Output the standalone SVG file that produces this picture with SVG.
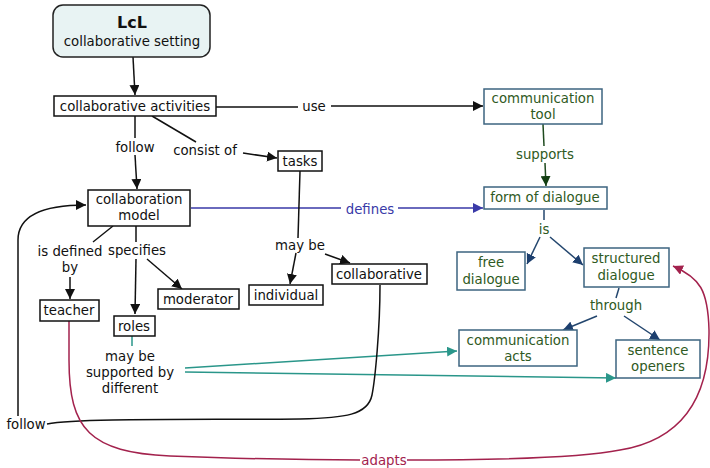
<svg xmlns="http://www.w3.org/2000/svg" width="710" height="468" viewBox="0 0 710 468">
<style>
text{font-family:"DejaVu Sans",Verdana,sans-serif;font-size:13.3px;text-anchor:middle;fill:#111}
.b{fill:#fff;stroke:#111;stroke-width:1.5}
.g{fill:#fff;stroke:#3d6480;stroke-width:1.5}
.gt{fill:#2f5a23}
.l{fill:none;stroke:#111;stroke-width:1.5}
.lg{fill:none;stroke:#1e4a1e;stroke-width:1.5}
.lb{fill:none;stroke:#23466e;stroke-width:1.5}
.lt{fill:none;stroke:#2a968a;stroke-width:1.5}
.lr{fill:none;stroke:#a3224d;stroke-width:1.5}
.lp{fill:none;stroke:#3a3aa8;stroke-width:1.5}
</style>
<defs>
<marker id="ak" viewBox="0 0 10 10" refX="10" refY="5" markerWidth="10" markerHeight="10" markerUnits="userSpaceOnUse" orient="auto"><path d="M0,0L10,5L0,10z" fill="#111"/></marker>
<marker id="ag" viewBox="0 0 10 10" refX="10" refY="5" markerWidth="10" markerHeight="10" markerUnits="userSpaceOnUse" orient="auto"><path d="M0,0L10,5L0,10z" fill="#123e12"/></marker>
<marker id="ab" viewBox="0 0 10 10" refX="10" refY="5" markerWidth="10" markerHeight="10" markerUnits="userSpaceOnUse" orient="auto"><path d="M0,0L10,5L0,10z" fill="#1d3f6e"/></marker>
<marker id="at" viewBox="0 0 10 10" refX="10" refY="5" markerWidth="10" markerHeight="10" markerUnits="userSpaceOnUse" orient="auto"><path d="M0,0L10,5L0,10z" fill="#2a968a"/></marker>
<marker id="ar" viewBox="0 0 10 10" refX="10" refY="5" markerWidth="10" markerHeight="10" markerUnits="userSpaceOnUse" orient="auto"><path d="M0,0L10,5L0,10z" fill="#a3224d"/></marker>
<marker id="ap" viewBox="0 0 10 10" refX="10" refY="5" markerWidth="10" markerHeight="10" markerUnits="userSpaceOnUse" orient="auto"><path d="M0,0L10,5L0,10z" fill="#3a3aa8"/></marker>
</defs>
<rect width="710" height="468" fill="#fff"/>
<g id="connectors">
<path class="l" d="M133,57L135,95" marker-end="url(#ak)"/>
<path class="l" d="M216,107L298,107M331,106L483,106" marker-end="url(#ak)"/>
<text x="314" y="111">use</text>
<path class="lg" d="M543,124L544,146"/>
<path class="lg" d="M545,163L546,186" marker-end="url(#ag)"/>
<text x="545" y="159" class="gt">supports</text>
<path class="lp" d="M191,208L341,208M398,208L483,208" marker-end="url(#ap)"/>
<text x="370" y="214" fill="#3a3aa8" style="fill:#3a3aa8">defines</text>
<path class="l" d="M135,116L135,138"/>
<path class="l" d="M135,155L137,189" marker-end="url(#ak)"/>
<text x="135" y="152">follow</text>
<path class="l" d="M152,116L196,142"/>
<path class="l" d="M243,153L277,158" marker-end="url(#ak)"/>
<text x="205" y="155">consist of</text>
<path class="l" d="M300,171L298,238"/>
<text x="300" y="250">may be</text>
<path class="l" d="M296,253L290,284" marker-end="url(#ak)"/>
<path class="l" d="M325,254L350,263" marker-end="url(#ak)"/>
<path class="l" d="M113,226L93,242"/>
<text x="70" y="256">is defined</text>
<text x="70" y="272">by</text>
<path class="l" d="M70,277L70,299" marker-end="url(#ak)"/>
<path class="l" d="M136,226L136,242"/>
<text x="137" y="255">specifies</text>
<path class="l" d="M136,259L135,314" marker-end="url(#ak)"/>
<path class="l" d="M147,259L182,289" marker-end="url(#ak)"/>
<path class="lt" d="M132,336L132,346"/>
<text x="130" y="361">may be</text>
<text x="130" y="377">supported by</text>
<text x="130" y="393">different</text>
<path class="lt" d="M185,368L457,351" marker-end="url(#at)"/>
<path class="lt" d="M185,372L616,378" marker-end="url(#at)"/>
<path class="lb" d="M544,210L544,220"/>
<text x="544" y="234" class="gt">is</text>
<path class="lb" d="M540,237L527,264" marker-end="url(#ab)"/>
<path class="lb" d="M550,237L583,265" marker-end="url(#ab)"/>
<path class="lb" d="M619,288L616,298"/>
<text x="616" y="310" class="gt">through</text>
<path class="lb" d="M597,316L563,330" marker-end="url(#ab)"/>
<path class="lb" d="M624,316L660,340" marker-end="url(#ab)"/>
<path class="l" d="M380,285C380,330 375,380 372,395C368,415 345,418 300,419C200,420 80,418 47,424"/>
<text x="26" y="429">follow</text>
<path class="l" d="M18,416L18,240C18,215 45,205 86,205" marker-end="url(#ak)"/>
<path class="lr" d="M69,321L69,360C69,430 90,452 170,456C250,459 320,460 360,460"/>
<path class="lr" d="M407,460C500,460 580,458 620,450C680,440 710,400 709,330C708,290 700,278 673,266" marker-end="url(#ar)"/>
<text x="384" y="465" style="fill:#a3224d">adapts</text>
</g>
<g id="lcl"><rect x="53" y="5" width="157" height="52" rx="10" fill="#e8f3f3" stroke="#222" stroke-width="1.5"/><text x="132" y="28" style="font-weight:bold;font-size:16px">LcL</text><text x="132" y="46">collaborative setting</text></g>
<g id="activities"><rect class="b" x="54" y="96" width="162" height="20"/><text x="135" y="111">collaborative activities</text></g>
<g id="commtool"><rect class="g" x="484" y="89" width="118" height="35"/><text x="543" y="103" class="gt">communication</text><text x="543" y="119" class="gt">tool</text></g>
<g id="tasks"><rect class="b" x="278" y="151" width="44" height="20"/><text x="300" y="166">tasks</text></g>
<g id="form"><rect class="g" x="484" y="187" width="123" height="22"/><text x="545" y="202" class="gt">form of dialogue</text></g>
<g id="model"><rect class="b" x="88" y="190" width="102" height="36"/><text x="139" y="204">collaboration</text><text x="139" y="220">model</text></g>
<g id="individual"><rect class="b" x="249" y="285" width="74" height="20"/><text x="286" y="300">individual</text></g>
<g id="collaborative"><rect class="b" x="332" y="264" width="95" height="20"/><text x="379" y="279">collaborative</text></g>
<g id="teacher"><rect class="b" x="40" y="300" width="59" height="21"/><text x="69" y="315">teacher</text></g>
<g id="moderator"><rect class="b" x="158" y="289" width="81" height="20"/><text x="198" y="304">moderator</text></g>
<g id="roles"><rect class="b" x="114" y="316" width="41" height="20"/><text x="134" y="331">roles</text></g>
<g id="free"><rect class="g" x="457" y="252" width="68" height="38"/><text x="491" y="267" class="gt">free</text><text x="491" y="284" class="gt">dialogue</text></g>
<g id="structured"><rect class="g" x="584" y="248" width="85" height="39"/><text x="626" y="263" class="gt">structured</text><text x="626" y="280" class="gt">dialogue</text></g>
<g id="acts"><rect class="g" x="459" y="330" width="118" height="36"/><text x="518" y="345" class="gt">communication</text><text x="518" y="361" class="gt">acts</text></g>
<g id="openers"><rect class="g" x="616" y="340" width="84" height="38"/><text x="658" y="355" class="gt">sentence</text><text x="658" y="371" class="gt">openers</text></g>
</svg>
